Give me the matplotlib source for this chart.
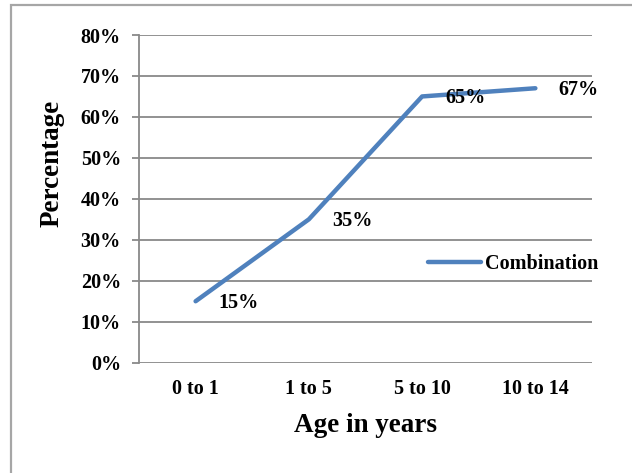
import matplotlib.pyplot as plt
import matplotlib.ticker as mtick
from matplotlib.patches import Rectangle

age_groups = ['0 to 1', '1 to 5', '5 to 10', '10 to 14']
combination = [0.15, 0.35, 0.65, 0.67]
value_labels = ['15%', '35%', '65%', '67%']

plt.rcParams['font.family'] = 'Liberation Serif'
plt.rcParams['font.weight'] = 'bold'

fig = plt.figure(figsize=(6.32, 4.73), dpi=100)
fig.patches.append(Rectangle((11 / 632, -0.05), 1.1, 1.05 - 5 / 473,
                             transform=fig.transFigure, fill=False,
                             edgecolor='#a6a6a6', linewidth=1.6))
ax = fig.add_axes([0.2199, 0.2332, 0.7168, 0.6928])

x = range(len(age_groups))
ax.plot(x, combination, color='#4f81bd', linewidth=3.2,
        solid_capstyle='round', solid_joinstyle='round', label='Combination')
for xi, yi, lab in zip(x, combination, value_labels):
    ax.annotate(lab, (xi, yi), xytext=(16.5, -1), textcoords='offset points',
                ha='left', va='center', fontsize=14.5, fontweight='bold')

ax.set_xlim(-0.5, 3.5)
ax.set_ylim(0, 0.8)
ax.set_yticks([i / 10 for i in range(9)])
ax.yaxis.set_major_formatter(mtick.PercentFormatter(1.0, decimals=0))
ax.set_xticks(list(x))
ax.set_xticklabels(age_groups)
ax.grid(axis='y', color='#898989', linewidth=1.3)
ax.set_axisbelow(True)
ax.tick_params(axis='y', length=5, width=1.3, color='#898989', pad=8, labelsize=14.5)
ax.tick_params(axis='x', length=0, pad=12, labelsize=14.5)
for s in ['top', 'right', 'bottom']:
    ax.spines[s].set_visible(False)
ax.spines['left'].set_color('#898989')
ax.spines['left'].set_linewidth(1.3)

ax.set_xlabel('Age in years', fontsize=19.5, fontweight='bold', labelpad=10)
ax.set_ylabel('Percentage', fontsize=19.5, fontweight='bold')
ax.yaxis.set_label_coords(-0.164, 0.607)

ax.legend(loc='center left', bbox_to_anchor=(0.638, 0.302), frameon=False,
          handlelength=2.65, handletextpad=0.2, borderpad=0, borderaxespad=0,
          prop={'size': 14.5, 'weight': 'bold'})

fig.savefig('out.png', dpi=100)
